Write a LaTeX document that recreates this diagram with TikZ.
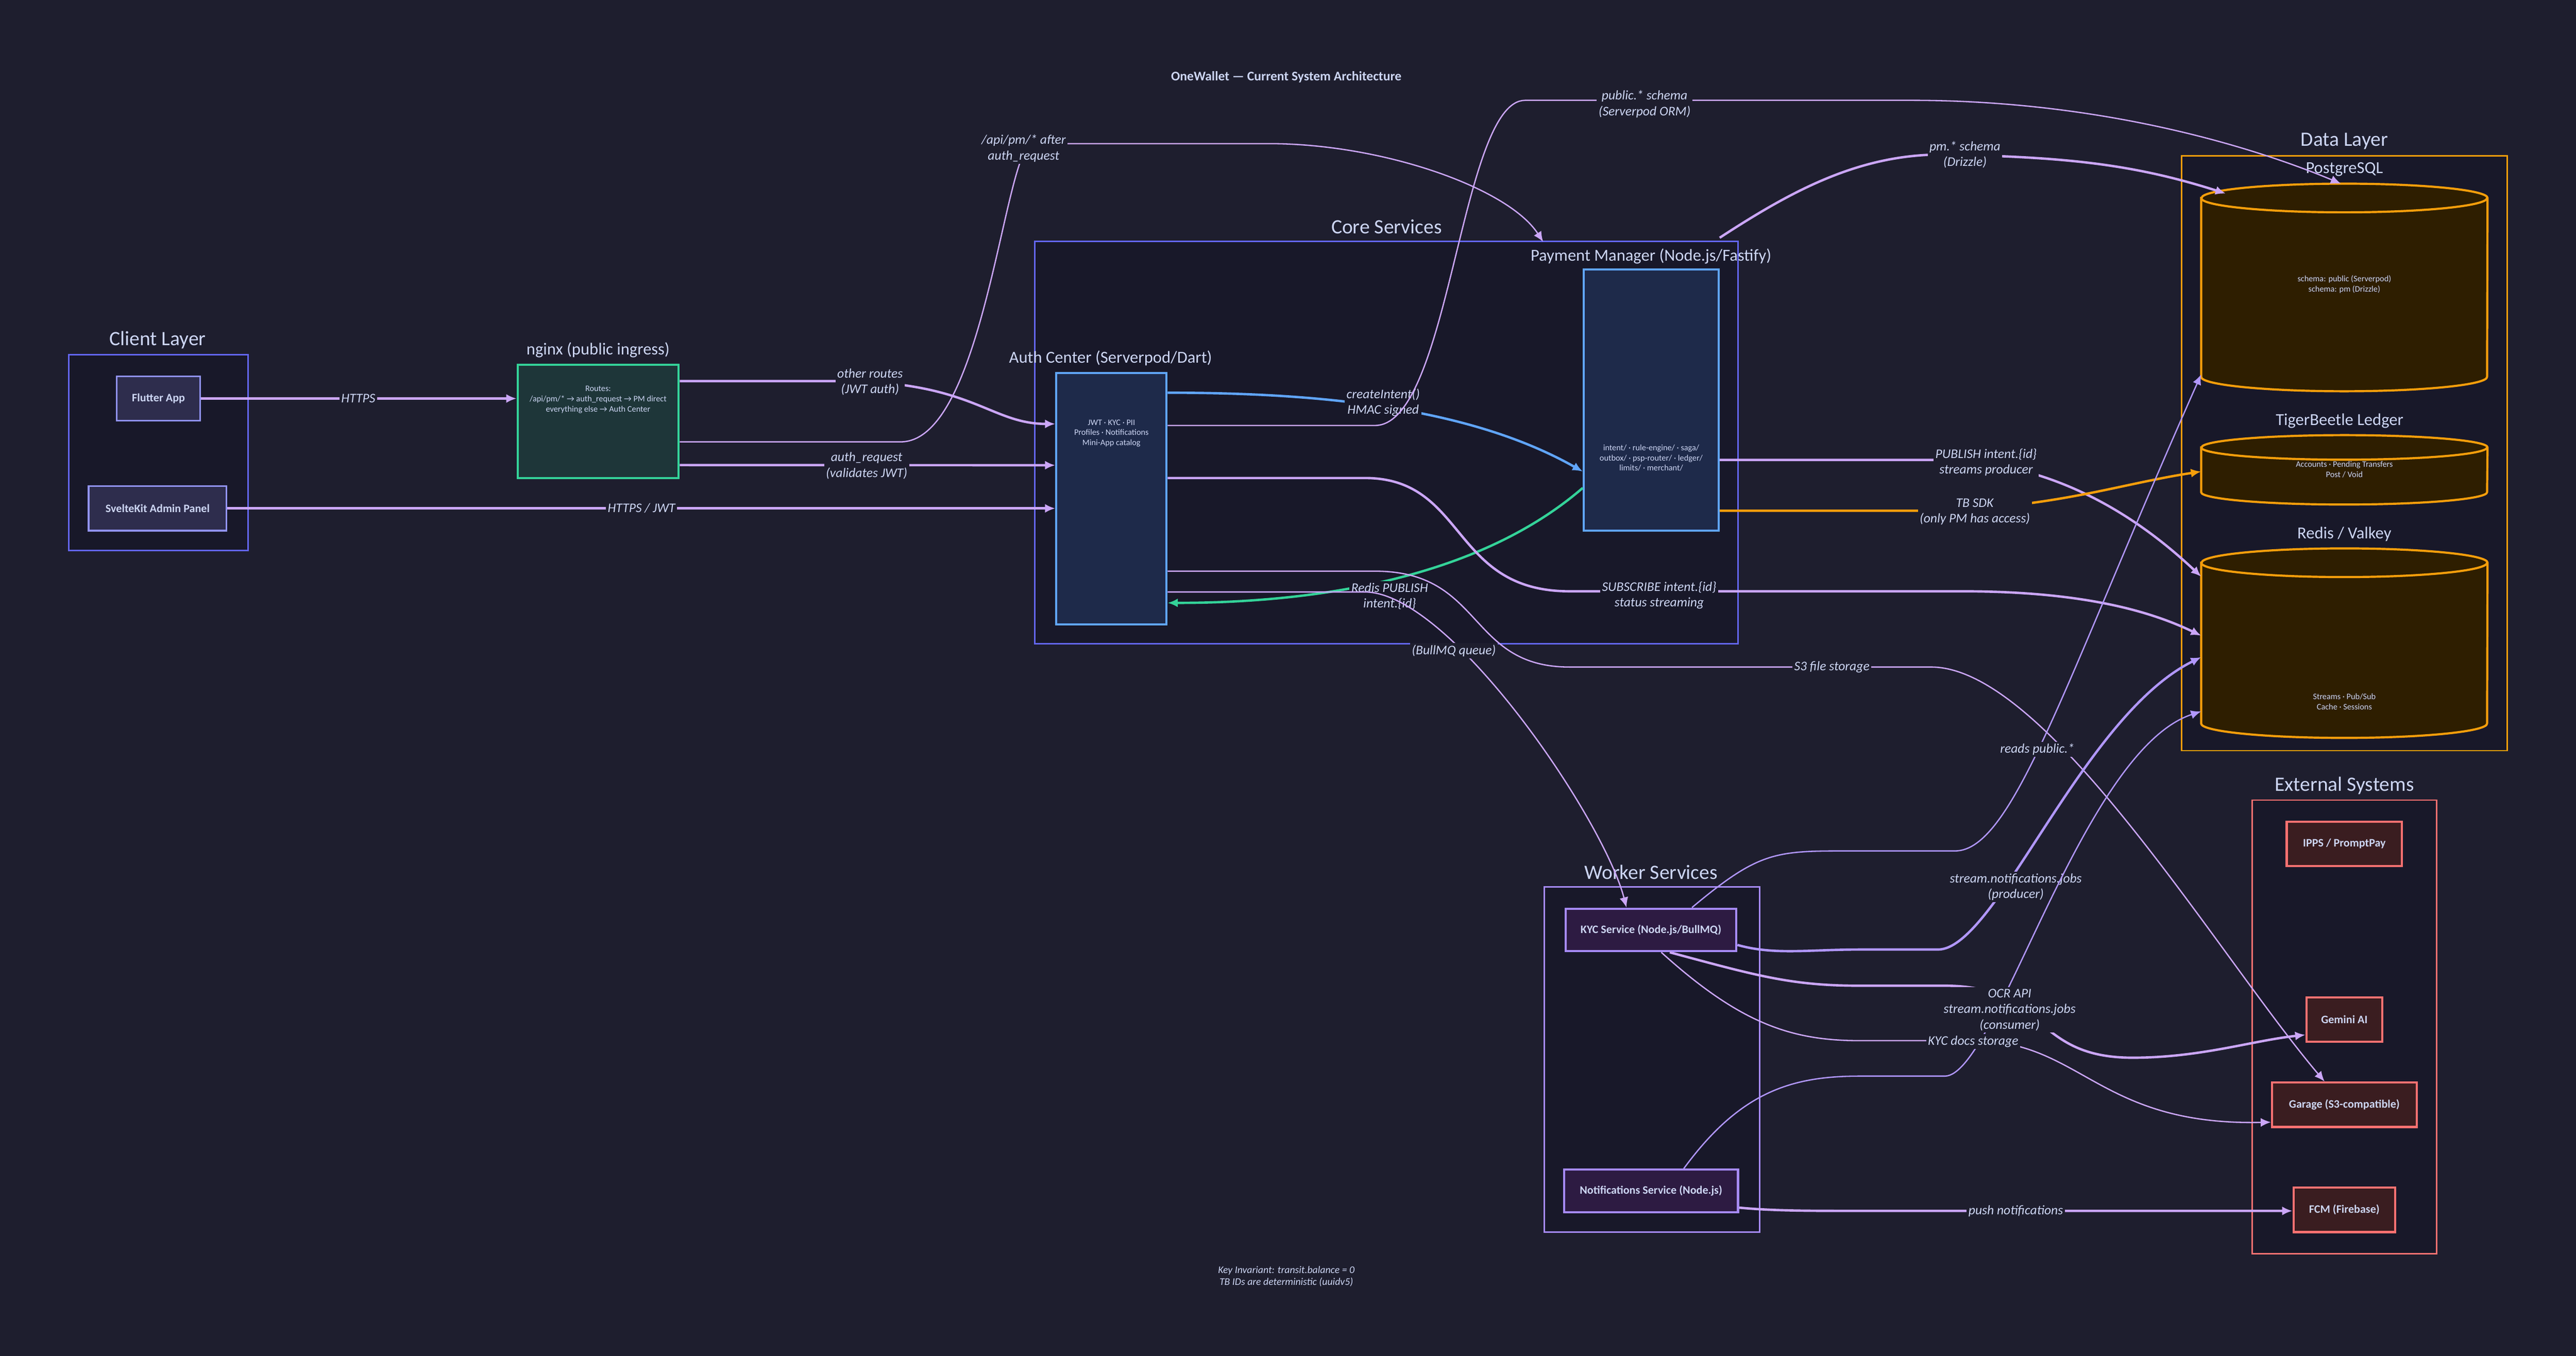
\documentclass[tikz,border=0pt]{standalone}
\usepackage{fontspec}
\setmainfont{Carlito}
\usetikzlibrary{arrows.meta}
\definecolor{bgcol}{HTML}{1E1E2E}
\definecolor{grpcol}{HTML}{181829}
\definecolor{txt}{HTML}{CDD6F4}
\definecolor{mauve}{HTML}{CBA6F7}
\definecolor{lav}{HTML}{B197FC}
\definecolor{indigo}{HTML}{6366F1}
\definecolor{skyb}{HTML}{60A5FA}
\definecolor{mint}{HTML}{34D399}
\definecolor{amber}{HTML}{F59E0B}
\definecolor{coral}{HTML}{F87171}
\definecolor{violet}{HTML}{A78BFA}
\tikzstyle{group} = [draw, line width=1.2pt, fill=grpcol]
\tikzstyle{gtitle} = [text=txt, font=\fontsize{17}{20}\selectfont]
\tikzstyle{ntitle} = [text=txt, font=\fontsize{14}{17}\selectfont]
\tikzstyle{small} = [text=txt, font=\fontsize{7}{8.5}\selectfont, align=center]
\tikzstyle{client} = [rectangle, draw=indigo!70!white, line width=1.5pt,
fill=HTML2E2D4D, text=txt, font=\bfseries\fontsize{9.5}{11}\selectfont]
\tikzstyle{svc} = [rectangle, draw=skyb, line width=1.8pt, fill=HTML1E2A4A]
\tikzstyle{worker} = [rectangle, draw=violet, line width=1.8pt, fill=HTML2D1B42,
text=txt, font=\bfseries\fontsize{9.5}{11}\selectfont]
\tikzstyle{ext} = [rectangle, draw=coral, line width=1.8pt, fill=HTML3A1D20,
text=txt, font=\bfseries\fontsize{9.5}{11}\selectfont]
\tikzstyle{dbnode} = [rectangle, draw=none, minimum width=8.38cm]
\tikzstyle{elabel} = [text=txt, fill=bgcol, inner sep=1.5pt, align=center,
font=\itshape\fontsize{11}{13}\selectfont]
\tikzstyle{arrow} = [draw=mauve, line width=2pt, -{Latex[length=0.3cm,width=0.26cm]}]
\tikzstyle{thin} = [line width=1.1pt]
\definecolor{HTML2E2D4D}{HTML}{2E2D4D}
\definecolor{HTML1E2A4A}{HTML}{1E2A4A}
\definecolor{HTML2D1B42}{HTML}{2D1B42}
\definecolor{HTML3A1D20}{HTML}{3A1D20}
\definecolor{dbfill}{HTML}{2E1E00}
% cylinder drawn around a named node, #2 = half height of the ellipse
\newcommand{\dbcyl}[2]{%
\path[draw=amber, line width=1.8pt, fill=dbfill]
([yshift=-#2]#1.north west) -- ([yshift=#2]#1.south west)
arc[start angle=180, end angle=360, x radius=4.19cm, y radius=#2]
-- ([yshift=-#2]#1.north east)
arc[start angle=0, end angle=180, x radius=4.19cm, y radius=#2] -- cycle;
\draw[amber, line width=1.8pt] ([yshift=-#2]#1.north west)
arc[start angle=180, end angle=360, x radius=4.19cm, y radius=#2];}

\begin{document}
\begin{tikzpicture}

\fill[bgcol] (0,0) rectangle (75.5,-39.74);
\useasboundingbox (0,0) rectangle (75.5,-39.74);

\node (title) [text=txt, font=\bfseries\fontsize{11}{13}\selectfont] at (37.7,-2.26) {OneWallet — Current System Architecture};

% groups
\draw[group, draw=indigo] (2.02,-10.40) rectangle (7.27,-16.13);
\node (clientT) [gtitle] at (4.62,-9.97) {Client Layer};
\draw[group, draw=indigo] (30.33,-7.08) rectangle (50.94,-18.87);
\node (coreT) [gtitle] at (40.64,-6.64) {Core Services};
\draw[group, draw=amber] (63.94,-4.57) rectangle (73.48,-22.00);
\node (dataT) [gtitle] at (68.71,-4.14) {Data Layer};
\draw[group, draw=coral] (66.01,-23.45) rectangle (71.41,-36.74);
\node (extT) [gtitle] at (68.71,-23.02) {External Systems};
\draw[group, draw=violet] (45.26,-26.00) rectangle (51.57,-36.11);
\node (workT) [gtitle] at (48.39,-25.57) {Worker Services};

% client
\node (flutter) [client, minimum width=2.45cm, minimum height=1.30cm] at (4.645,-11.68) {Flutter App};
\node (svelte) [client, minimum width=4.04cm, minimum height=1.30cm] at (4.62,-14.90) {SvelteKit Admin Panel};

% ingress and core
\node (nginx) [rectangle, draw=mint, line width=1.8pt, fill=HTML1E2A4A!0!black!40!mint!25!bgcol, minimum width=4.72cm, minimum height=3.32cm] at (17.53,-12.35) {};
\node (nginxT) [ntitle] at (17.53,-10.26) {nginx (public ingress)};
\node (nginxX) [small] at (17.53,-11.71) {Routes:\\/api/pm/* → auth\_request → PM direct\\everything else → Auth Center};
\node (auth) [svc, minimum width=3.23cm, minimum height=7.37cm] at (32.575,-14.615) {};
\node (authT) [ntitle] at (32.55,-10.50) {Auth Center (Serverpod/Dart)};
\node (authX) [small] at (32.575,-12.70) {JWT · KYC · PII\\Profiles · Notifications\\Mini-App catalog};
\node (pm) [svc, minimum width=3.95cm, minimum height=7.65cm] at (48.395,-11.725) {};
\node (pmT) [ntitle] at (48.39,-7.51) {Payment Manager (Node.js/Fastify)};
\node (pmX) [small] at (48.395,-13.42) {intent/ · rule-engine/ · saga/\\outbox/ · psp-router/ · ledger/\\limits/ · merchant/};

% data layer
\node (pg) [dbnode, minimum height=6.07cm] at (68.71,-8.425) {};
\dbcyl{pg}{0.42cm}
\node (pgT) [ntitle] at (68.71,-4.96) {PostgreSQL};
\node (pgX) [small] at (68.71,-8.33) {schema: public (Serverpod)\\schema: pm (Drizzle)};
\node (tb) [dbnode, minimum height=2.02cm] at (68.71,-13.77) {};
\dbcyl{tb}{0.36cm}
\node (tbT) [ntitle] at (68.57,-12.33) {TigerBeetle Ledger};
\node (tbX) [small] at (68.71,-13.76) {Accounts · Pending Transfers\\Post / Void};
\node (redis) [dbnode, minimum height=5.54cm] at (68.71,-18.85) {};
\dbcyl{redis}{0.42cm}
\node (redisT) [ntitle] at (68.71,-15.65) {Redis / Valkey};
\node (redisX) [small] at (68.71,-20.56) {Streams · Pub/Sub\\Cache · Sessions};

% external
\node (ipps) [ext, minimum width=3.38cm, minimum height=1.30cm] at (68.71,-24.73) {IPPS / PromptPay};
\node (gemini) [ext, minimum width=2.22cm, minimum height=1.30cm] at (68.71,-29.88) {Gemini AI};
\node (garage) [ext, minimum width=4.24cm, minimum height=1.30cm] at (68.71,-32.38) {Garage (S3-compatible)};
\node (fcm) [ext, minimum width=2.98cm, minimum height=1.30cm] at (68.71,-35.46) {FCM (Firebase)};

% workers
\node (kyc) [worker, minimum width=5.0cm, minimum height=1.25cm] at (48.39,-27.255) {KYC Service (Node.js/BullMQ)};
\node (notif) [worker, minimum width=5.1cm, minimum height=1.25cm] at (48.39,-34.905) {Notifications Service (Node.js)};

\node (note) [text=txt, font=\itshape\fontsize{8.5}{10}\selectfont, align=center] at (37.7,-37.41) {Key Invariant: transit.balance = 0\\TB IDs are deterministic (uuidv5)};

% client and ingress edges
\draw [arrow] (flutter.east) -- (flutter.east -| nginx.west);
\node (l1) [elabel] at (10.5,-11.68) {HTTPS};
\draw [arrow] (svelte.east) -- (svelte.east -| auth.west);
\node (l2) [elabel] at (18.8,-14.90) {HTTPS / JWT};
\draw [arrow] ([yshift=1.18cm]nginx.east) -- (24.6,-11.17) .. controls (28.5,-11.17) and (29,-12.42) .. ([yshift=2.19cm]auth.west);
\node (l3) [elabel] at (25.5,-11.2) {other routes\\(JWT auth)};
\draw [arrow] ([yshift=-1.28cm]nginx.east) -- ([yshift=0.98cm]auth.west);
\node (l4) [elabel] at (25.4,-13.65) {auth\_request\\(validates JWT)};
\draw [arrow, thin] ([yshift=-0.60cm]nginx.east) -- (26.4,-12.95) .. controls (28.6,-12.95) and (29.3,-6) .. (30.0,-4.5) .. controls (30.2,-4.25) .. (31,-4.21) -- (37.2,-4.21) .. controls (40.5,-4.21) and (44.2,-5.5) .. ([xshift=-1.16cm, yshift=0.78cm]pm.north west);
\node (l5) [elabel] at (30.0,-4.35) {/api/pm/* after\\auth\_request};

% core edges
\draw [arrow, draw=skyb] ([yshift=3.105cm]auth.east) .. controls (38.5,-11.51) and (43,-11.9) .. ([yshift=-2.095cm]pm.west);
\node (l6) [elabel, fill=grpcol] at (40.54,-11.8) {createIntent()\\HMAC signed};
\draw [arrow, draw=mint] ([yshift=-2.575cm]pm.west) .. controls (43.5,-16.8) and (39,-17.67) .. ([yshift=-3.055cm]auth.east);
\draw [arrow, thin] ([yshift=2.145cm]auth.east) -- (40.3,-12.47) .. controls (42.5,-12.47) and (42.8,-2.94) .. (44.7,-2.94) -- (56.0,-2.94) .. controls (62,-2.94) and (66.5,-4.5) .. ([xshift=-0.1cm]pg.north);
\node (l7) [elabel] at (48.2,-3.05) {public.* schema\\(Serverpod ORM)};
\draw [arrow] ([yshift=0.9cm]pm.north east) .. controls (52.5,-5.6) and (54.5,-4.5) .. (57.0,-4.53) .. controls (60.5,-4.6) and (62.5,-4.8) .. ([xshift=0.72cm, yshift=-0.29cm]pg.north west);
\node (l8) [elabel] at (57.59,-4.53) {pm.* schema\\(Drizzle)};
\draw [arrow] ([yshift=0.605cm]auth.east) -- (40.0,-14.01) .. controls (43,-14.01) and (42.5,-17.33) .. (46,-17.33) -- (57.5,-17.33) .. controls (61,-17.33) and (63,-17.9) .. ([yshift=0.22cm]redis.west);
\node (l9) [elabel, fill=grpcol] at (48.63,-17.45) {SUBSCRIBE intent.\{id\}\\status streaming};
\node (l10) [elabel, fill=grpcol] at (40.73,-17.47) {Redis PUBLISH\\intent.\{id\}};
\draw [arrow, thin] ([yshift=-2.125cm]auth.east) -- (40.3,-16.74) .. controls (43.5,-16.74) and (43,-19.55) .. (46,-19.55) -- (56.6,-19.55) .. controls (60,-19.55) and (65,-28) .. ([xshift=-0.58cm]garage.north);
\node (l11) [elabel] at (53.69,-19.55) {S3 file storage};
\draw [arrow, thin] ([yshift=-2.735cm]auth.east) -- (40.0,-17.35) .. controls (42.5,-17.35) and (47,-24) .. ([xshift=-0.72cm]kyc.north);
\node (l12) [elabel] at (42.61,-19.07) {(BullMQ queue)};
\draw [arrow] ([yshift=-1.755cm]pm.east) -- (56.8,-13.48) .. controls (60,-13.48) and (62.5,-15) .. ([yshift=1.95cm]redis.west);
\node (l13) [elabel] at (58.21,-13.55) {PUBLISH intent.\{id\}\\streams producer};
\draw [arrow, draw=amber] ([yshift=-3.245cm]pm.east) -- (56.0,-14.97) .. controls (60,-14.97) and (62,-14.2) .. ([yshift=-0.05cm]tb.west);
\node (l14) [elabel] at (57.88,-15.0) {TB SDK\\(only PM has access)};

% worker edges
\draw [arrow, draw=lav, thin] ([xshift=1.2cm]kyc.north) .. controls (51.5,-25) and (52,-24.94) .. (54,-24.94) -- (57.3,-24.94) .. controls (59,-24.94) and (60.5,-20) .. ([yshift=-2.55cm]pg.west);
\node (l15) [elabel] at (59.71,-21.96) {reads public.*};
\draw [arrow, draw=lav] ([yshift=-0.44cm]kyc.east) .. controls (52,-28) and (53,-27.83) .. (54.5,-27.83) -- (56.8,-27.83) .. controls (58.5,-27.83) and (61,-21) .. ([yshift=-0.41cm]redis.west);
\node (l16) [elabel] at (59.08,-26.0) {stream.notifications.jobs\\(producer)};
\draw [arrow, draw=lav, thin] ([xshift=0.96cm]notif.north) .. controls (51,-32) and (52.5,-31.54) .. (54.5,-31.54) -- (57,-31.54) .. controls (58.5,-31.54) and (61,-22) .. ([yshift=-2.0cm]redis.west);
\draw [arrow] ([xshift=0.55cm]kyc.south) .. controls (51.5,-28.6) and (52.5,-28.89) .. (54.5,-28.89) -- (57,-28.89) .. controls (60,-28.89) and (59.5,-31) .. (62.5,-31) .. controls (64.5,-31) and (66,-30.5) .. ([yshift=-0.45cm]gemini.west);
\node (l17) [elabel] at (58.9,-29.6) {OCR API\\stream.notifications.jobs\\(consumer)};
\draw [arrow, thin] ([xshift=0.3cm]kyc.south) .. controls (51,-30) and (52.5,-30.5) .. (54.5,-30.5) -- (57.83,-30.5) .. controls (61,-30.5) and (61.5,-33) .. ([yshift=-0.51cm]garage.west);
\node (l18) [elabel] at (57.83,-30.53) {KYC docs storage};
\draw [arrow] ([yshift=-0.49cm]notif.east) .. controls (52,-35.49) and (53,-35.49) .. (54.5,-35.49) -- ([yshift=-0.03cm]fcm.west);
\node (l19) [elabel] at (59.08,-35.49) {push notifications};

\end{tikzpicture}
\end{document}
